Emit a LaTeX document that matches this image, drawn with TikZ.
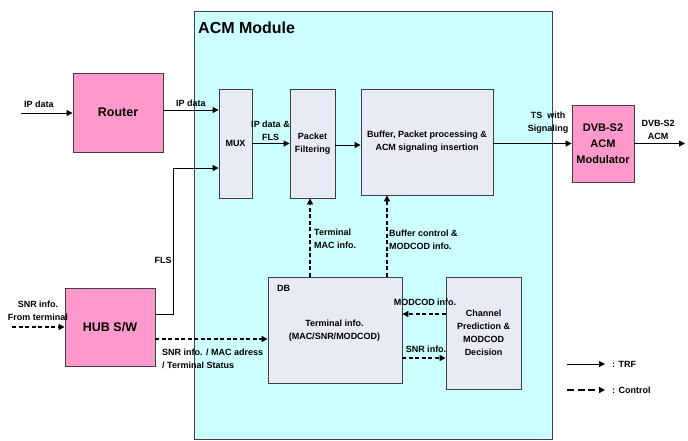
\documentclass[tikz,border=0pt]{standalone}
\usepackage{fontspec}
\setmainfont{Liberation Sans}
\usetikzlibrary{arrows.meta,calc}
\definecolor{modcyan}{HTML}{CCFFFF}
\definecolor{boxpink}{HTML}{FF99CC}
\definecolor{boxlav}{HTML}{E8EAF6}
\definecolor{edgegray}{HTML}{404040}
\begin{document}
\begin{tikzpicture}[x=1pt,y=-1pt,
  box/.style={draw=edgegray,line width=0.9pt,fill=boxlav,align=center,inner sep=0pt,font=\bfseries\fontsize{9}{13}\selectfont},
  pinkbox/.style={box,fill=boxpink},
  lbl/.style={font=\bfseries\fontsize{9}{13}\selectfont,inner sep=0pt,align=center},
  trf/.style={line width=1pt,-{Triangle[length=6pt,width=6pt]}},
  ctl/.style={line width=1.6pt,dash pattern=on 4pt off 2.5pt,-{Triangle[length=6pt,width=6pt]}},
  ctlleg/.style={line width=1.6pt,dash pattern=on 7pt off 3.5pt,-{Triangle[length=6pt,width=6pt]}}]
\useasboundingbox (0,0) rectangle (688,440);
% module
\draw[draw=edgegray,line width=0.9pt,fill=modcyan] (194,11) rectangle (552,439);
\node[anchor=west,inner sep=0pt,font=\bfseries\fontsize{16}{18}\selectfont] (title) at (198,28) {ACM Module};
% boxes
\node[pinkbox,minimum width=90pt,minimum height=79pt,font=\bfseries\fontsize{12.5}{15}\selectfont] (router) at (118,112.5) {Router};
\node[pinkbox,minimum width=90pt,minimum height=78pt,font=\bfseries\fontsize{12.5}{15}\selectfont] (hub) at (110,327) {HUB S/W};
\node[box,minimum width=33pt,minimum height=109pt] (mux) at (235.5,143.5) {MUX};
\node[box,minimum width=45pt,minimum height=109pt] (pf) at (312.5,143.5) {Packet\\Filtering};
\node[box,minimum width=132pt,minimum height=106pt] (buf) at (427,142) {Buffer, Packet processing \&\\ACM signaling insertion};
\node[pinkbox,minimum width=62pt,minimum height=77pt,font=\bfseries\fontsize{11}{16}\selectfont] (dvb) at (603,143.5) {DVB-S2\\ACM\\Modulator};
\node[box,minimum width=134pt,minimum height=106pt] (db) at (335,330) {};
\node[lbl] (dbtxt) at (334.5,330.5) {Terminal info.\\(MAC/SNR/MODCOD)};
\node[lbl,anchor=west] (dblbl) at (277,288) {DB};
\node[box,minimum width=75pt,minimum height=112pt] (cp) at (483.5,333) {Channel\\Prediction \&\\MODCOD\\Decision};
% coordinates
\coordinate (ipin) at (21,113);
\coordinate (out) at (685,143.5);
\coordinate (snrin) at (12,327);
\coordinate (legA) at (567,364);
\coordinate (legB) at (605,364);
\coordinate (legC) at (567,390);
\coordinate (legD) at (605,390);
% TRF connectors
\draw[trf] (ipin) -- (ipin -| router.west);
\draw[trf] (router.east |- 0,110) -- (mux.west |- 0,110);
\draw[trf] (mux.east) -- (pf.west);
\draw[trf] (pf.east |- 0,145) -- (buf.west |- 0,145);
\draw[trf] (buf.east |- dvb.west) -- (dvb.west);
\draw[trf] (dvb.east) -- (out);
\draw[trf] (hub.east |- 0,314) -- (173,314) |- (mux.west |- 0,168);
% control connectors
\draw[ctl] (snrin) -- (hub.west);
\draw[ctl] (hub.east |- 0,339) -- (db.west |- 0,339);
\draw[ctl] (db.north -| 310,0) -- (pf.south -| 310,0);
\draw[ctl] (db.north -| 387,0) -- (buf.south -| 387,0);
\draw[ctl] (cp.west |- 0,314) -- (db.east |- 0,314);
\draw[ctl] (db.east |- 0,358) -- (cp.west |- 0,358);
% legend
\draw[trf] (legA) -- (legB);
\draw[ctlleg] (legC) -- (legD);
\node[lbl,anchor=west] (legtrf) at (612,364) {: TRF};
\node[lbl,anchor=west] (legctl) at (612,390) {: Control};
% labels
\node[lbl] at (39,104) {IP data};
\node[lbl] at (191,103.5) {IP data};
\node[lbl] at (270.5,130.5) {IP data \&\\FLS};
\node[lbl] at (548,122.5) {TS\ \ with\\Signaling};
\node[lbl] at (658,130) {DVB-S2\\ACM};
\node[lbl] at (163,260) {FLS};
\node[lbl] at (38,310.5) {SNR info.\\From terminal};
\node[lbl,anchor=west,align=left] at (162,359) {SNR info. / MAC adress\\/ Terminal Status};
\node[lbl,anchor=west,align=left] at (314,238.5) {Terminal\\MAC info.};
\node[lbl,anchor=west,align=left] at (389,239.5) {Buffer control \&\\MODCOD info.};
\node[lbl] at (425,302) {MODCOD info.};
\node[lbl] at (426,349) {SNR info.};
\end{tikzpicture}
\end{document}
